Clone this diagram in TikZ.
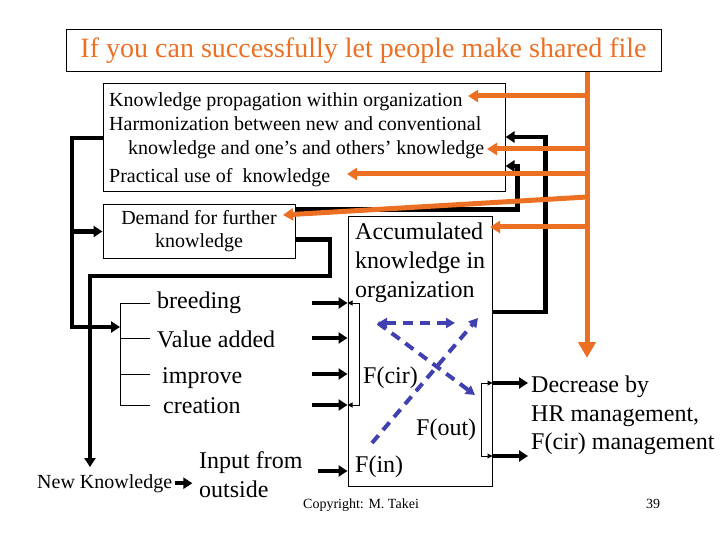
\documentclass[tikz,border=0pt]{standalone}
\usepackage{fontspec}
\setmainfont{Liberation Serif}
\usetikzlibrary{arrows.meta}
\definecolor{orng}{RGB}{236,112,36}
\definecolor{blu}{RGB}{64,64,176}

\tikzset{
  box/.style={draw, line width=1pt, inner sep=0pt},
  txt/.style={inner sep=0pt, anchor=base west},
  bigtxt/.style={font=\fontsize{24}{28}\selectfont},
  midtxt/.style={font=\fontsize{20}{23}\selectfont},
  blk/.style={line width=4.5pt, -{Triangle[length=9pt,width=11pt]}},
  org/.style={draw=orng, line width=5pt, -{Triangle[length=10pt,width=12pt]}},
  hair/.style={line width=1pt},
  smalltip/.style={{Triangle[length=5pt,width=5pt]}-{Triangle[length=5pt,width=5pt]}},
  bluedash/.style={draw=blu, line width=4pt, dash pattern=on 10pt off 7pt}
}

\begin{document}
\begin{tikzpicture}[x=1pt, y=-1pt]
\useasboundingbox (0,0) rectangle (720,540);

% boxes
\node[box, minimum width=595pt, minimum height=42pt, text=orng, font=\fontsize{28}{30}\selectfont] (title) at (363.5,51) {If you can successfully let people make shared file};
\node[box, minimum width=402pt, minimum height=108pt] (know) at (304,138) {};
\node[box, midtxt, align=center, minimum width=192pt, minimum height=53pt] (demand) at (199,231.5) {Demand for further\\knowledge};
\node[box, minimum width=144pt, minimum height=269pt] (accum) at (420,351.5) {};

% texts
\node[txt, midtxt] (l1) at (109,107) {Knowledge propagation within organization};
\node[txt, midtxt] (l2) at (109,131) {Harmonization between new and conventional};
\node[txt, midtxt] (l3) at (128,155) {knowledge and one’s and others’ knowledge};
\node[txt, midtxt] (l4) at (109,183) {Practical use of\ \ knowledge};

\node[txt, bigtxt] (acc1) at (355,240) {Accumulated};
\node[txt, bigtxt] (acc2) at (355,268) {knowledge in};
\node[txt, bigtxt] (acc3) at (355,297) {organization};
\node[txt, bigtxt] (fcir) at (363,383) {F(cir)};
\node[txt, bigtxt] (fout) at (416,435) {F(out)};
\node[txt, bigtxt] (fin) at (355,472) {F(in)};

\node[txt, bigtxt] (brd) at (157,308) {breeding};
\node[txt, bigtxt] (val) at (157,347) {Value added};
\node[txt, bigtxt] (imp) at (162,383) {improve};
\node[txt, bigtxt] (cre) at (163,413) {creation};

\node[txt, midtxt] (newk) at (37,488) {New Knowledge};
\node[txt, bigtxt] (inp1) at (199,468) {Input from};
\node[txt, bigtxt] (inp2) at (199,497) {outside};

\node[txt, bigtxt] (dec1) at (531,392) {Decrease by};
\node[txt, bigtxt] (dec2) at (531,421) {HR management,};
\node[txt, bigtxt] (dec3) at (531,449) {F(cir) management};

\node[txt, font=\fontsize{14}{16}\selectfont] (copy) at (303,508) {Copyright: M. Takei};
\node[txt, font=\fontsize{14}{16}\selectfont] (page) at (646,508) {39};

% black loops
\coordinate (lft) at (72,327);
\coordinate (brk) at (120,327);
\draw[blk] (know.west) -| (lft) -- (brk);
\draw[blk] (demand.west -| lft) -- (demand.west);

\coordinate (nkin) at (90,467);
\draw[blk] ([yshift=-8pt]demand.east) -| (330,276) -| (nkin);
\draw[blk] ([yshift=22pt]demand.east) -| ([xshift=12pt,yshift=-28pt]know.east) -- ([yshift=-28pt]know.east);
\draw[blk] ([yshift=39.5pt]accum.east) -| ([xshift=40pt,yshift=1pt]know.east) -- ([yshift=1pt]know.east);

% inputs
\coordinate (in1) at (312,303);
\coordinate (in2) at (312,338);
\coordinate (in3) at (312,374);
\coordinate (in4) at (312,405);
\coordinate (in5) at (318,471);
\foreach \i in {1,...,5}
  \draw[blk] (in\i) -- (in\i -| accum.west);
\draw[hair] (brk |- in1) -- (brk |- in4);
\foreach \i in {1,...,4}
  \draw[hair] (brk |- in\i) -- ++(30,0);
\draw[hair, smalltip] (in1 -| accum.west) -- ++(12,0) |- (in4 -| accum.west);
\draw[blk] ([xshift=3pt]newk.east) -- ([xshift=20pt]newk.east);

% outputs
\coordinate (out1) at (528,383);
\coordinate (out2) at (528,456);
\draw[blk] (out1 -| accum.east) -- (out1);
\draw[blk] (out2 -| accum.east) -- (out2);
\draw[hair, smalltip] (out1 -| accum.east) -- ++(-11,0) |- (out2 -| accum.east);

% circulation
\coordinate (b1) at (378,323);
\coordinate (b2) at (455,323);
\coordinate (b3) at (475,395);
\coordinate (b4) at (372,443);
\coordinate (b5) at (478,318);
\draw[bluedash, {Triangle[length=9pt,width=10pt]}-{Triangle[length=9pt,width=10pt]}] (b1) -- (b2);
\draw[bluedash, -{Triangle[length=9pt,width=10pt]}] (b1) -- (b3);
\draw[bluedash, -{Triangle[length=9pt,width=10pt]}] (b4) -- (b5);

% orange
\coordinate (otip) at (587,358);
\coordinate (t1) at (468,96);
\coordinate (t2) at (487,149);
\coordinate (t3) at (347,174);
\coordinate (s4) at (587,197);
\coordinate (t4) at (283,215);
\coordinate (t5) at (490,227);
\draw[org, -{Triangle[length=16pt,width=17pt]}] (title.south -| otip) -- (otip);
\draw[org] (t1 -| otip) -- (t1);
\draw[org] (t2 -| otip) -- (t2);
\draw[org] (t3 -| otip) -- (t3);
\draw[org] (s4) -- (t4);
\draw[org] (t5 -| otip) -- (t5);

\end{tikzpicture}
\end{document}
